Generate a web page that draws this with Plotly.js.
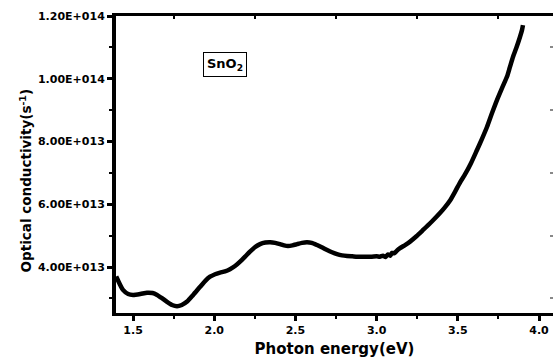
<!DOCTYPE html>
<html>
<head>
<meta charset="utf-8">
<script src="https://cdn.plot.ly/plotly-3.0.1.min.js"></script>
<style>
  html, body { margin: 0; padding: 0; background: #fff; }
  #chart { width: 553px; height: 361px; }
</style>
</head>
<body>
<div id="chart"></div>
<script>
// Photon energy (eV)
const photonEnergy = [
  1.396, 1.438, 1.470, 1.500, 1.545, 1.586, 1.620, 1.648, 1.680, 1.709, 1.740, 1.771, 1.800,
  1.833, 1.870, 1.913, 1.945, 1.974, 2.005, 2.036, 2.066, 2.097, 2.128, 2.159, 2.190, 2.220,
  2.250, 2.282, 2.315, 2.344, 2.375, 2.405, 2.430, 2.454, 2.482, 2.510, 2.540, 2.571, 2.600,
  2.633, 2.665, 2.695, 2.725, 2.756, 2.787, 2.818, 2.850, 2.880, 2.910, 2.941, 2.970, 3.000,
  3.020, 3.039, 3.055, 3.070, 3.083, 3.095, 3.110, 3.125, 3.144, 3.175, 3.206, 3.245, 3.286,
  3.340, 3.390, 3.420, 3.452, 3.485, 3.514, 3.544, 3.580, 3.618, 3.650, 3.680, 3.710, 3.741,
  3.772, 3.803, 3.820, 3.840, 3.862, 3.883, 3.895, 3.901
];

// Optical conductivity (s^-1)
const opticalConductivity = [
  3.70e13, 3.27e13, 3.14e13, 3.11e13, 3.14e13, 3.18e13, 3.17e13, 3.11e13, 3.00e13, 2.89e13, 2.79e13, 2.75e13, 2.79e13,
  2.90e13, 3.11e13, 3.37e13, 3.56e13, 3.69e13, 3.77e13, 3.82e13, 3.86e13, 3.93e13, 4.03e13, 4.17e13, 4.33e13, 4.49e13,
  4.63e13, 4.73e13, 4.78e13, 4.79e13, 4.77e13, 4.73e13, 4.69e13, 4.67e13, 4.69e13, 4.73e13, 4.77e13, 4.79e13, 4.77e13,
  4.70e13, 4.62e13, 4.54e13, 4.47e13, 4.41e13, 4.37e13, 4.35e13, 4.34e13, 4.33e13, 4.33e13, 4.33e13, 4.33e13, 4.34e13,
  4.33e13, 4.36e13, 4.32e13, 4.40e13, 4.36e13, 4.45e13, 4.44e13, 4.52e13, 4.60e13, 4.70e13, 4.81e13, 4.98e13, 5.18e13,
  5.45e13, 5.72e13, 5.90e13, 6.12e13, 6.42e13, 6.70e13, 6.95e13, 7.30e13, 7.73e13, 8.10e13, 8.47e13, 8.90e13, 9.32e13,
  9.70e13, 1.007e14, 1.036e14, 1.070e14, 1.101e14, 1.134e14, 1.155e14, 1.171e14
];

// Axis ticks
const xTickValues = [1.5, 2.0, 2.5, 3.0, 3.5, 4.0];
const xTickLabels = ['1.5', '2.0', '2.5', '3.0', '3.5', '4.0'];
const xMinorTicks = [1.75, 2.25, 2.75, 3.25, 3.75];
const yTickValues = [4e13, 6e13, 8e13, 1e14, 1.2e14];
const yTickLabels = ['4.00E+013', '6.00E+013', '8.00E+013', '1.00E+014', '1.20E+014'];
const yMinorTicks = [3e13, 5e13, 7e13, 9e13, 1.1e14];

const xRange = [1.395, 4.086];
const yRange = [2.534e13, 1.2e14];

const boldFont = 'DejaVu Sans, Liberation Sans, Arial, sans-serif';

const trace = {
  x: photonEnergy,
  y: opticalConductivity,
  type: 'scatter',
  mode: 'lines',
  line: { color: '#000', width: 4.5, shape: 'spline', smoothing: 0.6 },
  hoverinfo: 'skip',
  showlegend: false
};

const layout = {
  width: 553,
  height: 361,
  margin: { l: 116, r: 0, t: 16, b: 48 },
  paper_bgcolor: '#fff',
  plot_bgcolor: '#fff',
  showlegend: false,
  font: { family: boldFont, color: '#000' },
  xaxis: {
    range: xRange,
    tickmode: 'array',
    tickvals: xTickValues,
    ticktext: xTickLabels,
    ticks: 'outside',
    ticklen: 5,
    tickwidth: 3,
    tickcolor: '#000',
    minor: { tickmode: 'array', tickvals: xMinorTicks, ticks: 'outside', ticklen: 3, tickwidth: 2, tickcolor: '#000' },
    showline: true,
    linewidth: 3,
    linecolor: '#000',
    mirror: true,
    showgrid: false,
    zeroline: false,
    tickfont: { family: boldFont, size: 11, color: '#000', weight: 'bold' },
    title: { text: 'Photon energy(eV)', font: { family: boldFont, size: 15, color: '#000', weight: 'bold' }, standoff: 8 }
  },
  yaxis: {
    range: yRange,
    tickmode: 'array',
    tickvals: yTickValues,
    ticktext: yTickLabels,
    ticks: 'outside',
    ticklen: 5,
    tickwidth: 3,
    tickcolor: '#000',
    minor: { tickmode: 'array', tickvals: yMinorTicks, ticks: 'outside', ticklen: 3, tickwidth: 2, tickcolor: '#000' },
    showline: true,
    linewidth: 4,
    linecolor: '#000',
    showgrid: false,
    zeroline: false,
    tickfont: { family: boldFont, size: 11, color: '#000', weight: 'bold' }
  },
  // mirrored minor ticks along the top and right edges
  xaxis2: {
    overlaying: 'x',
    side: 'top',
    range: xRange,
    tickmode: 'array',
    tickvals: xMinorTicks,
    showticklabels: false,
    ticks: 'inside',
    ticklen: 3,
    tickwidth: 2,
    tickcolor: '#000',
    showgrid: false,
    zeroline: false,
    showline: false
  },
  yaxis2: {
    overlaying: 'y',
    side: 'right',
    range: yRange,
    tickmode: 'array',
    tickvals: yMinorTicks,
    showticklabels: false,
    ticks: 'inside',
    ticklen: 3,
    tickwidth: 2,
    tickcolor: '#888',
    showgrid: false,
    zeroline: false,
    showline: false
  },
  annotations: [
    {
      text: 'Optical conductivity(s<sup>-1</sup>)',
      textangle: -90,
      xref: 'paper', yref: 'paper',
      x: -0.207, y: 0.445,
      xanchor: 'center', yanchor: 'middle',
      showarrow: false,
      font: { family: boldFont, size: 13.5, color: '#000', weight: 'bold' }
    },
    {
      text: 'SnO<sub>2</sub>',
      xref: 'paper', yref: 'paper',
      x: 0.25, y: 0.838,
      xanchor: 'center', yanchor: 'middle',
      showarrow: false,
      bordercolor: '#000',
      borderwidth: 1,
      borderpad: 3,
      bgcolor: '#fff',
      font: { family: boldFont, size: 13, color: '#000', weight: 'bold' }
    }
  ]
};

// invisible trace anchoring the mirrored axes
const mirrorTrace = {
  x: [xRange[0]], y: [yRange[0]], xaxis: 'x2', yaxis: 'y2',
  type: 'scatter', mode: 'markers', marker: { opacity: 0 },
  hoverinfo: 'skip', showlegend: false
};

Plotly.newPlot('chart', [trace, mirrorTrace], layout, { staticPlot: true, displayModeBar: false });
</script>
</body>
</html>
